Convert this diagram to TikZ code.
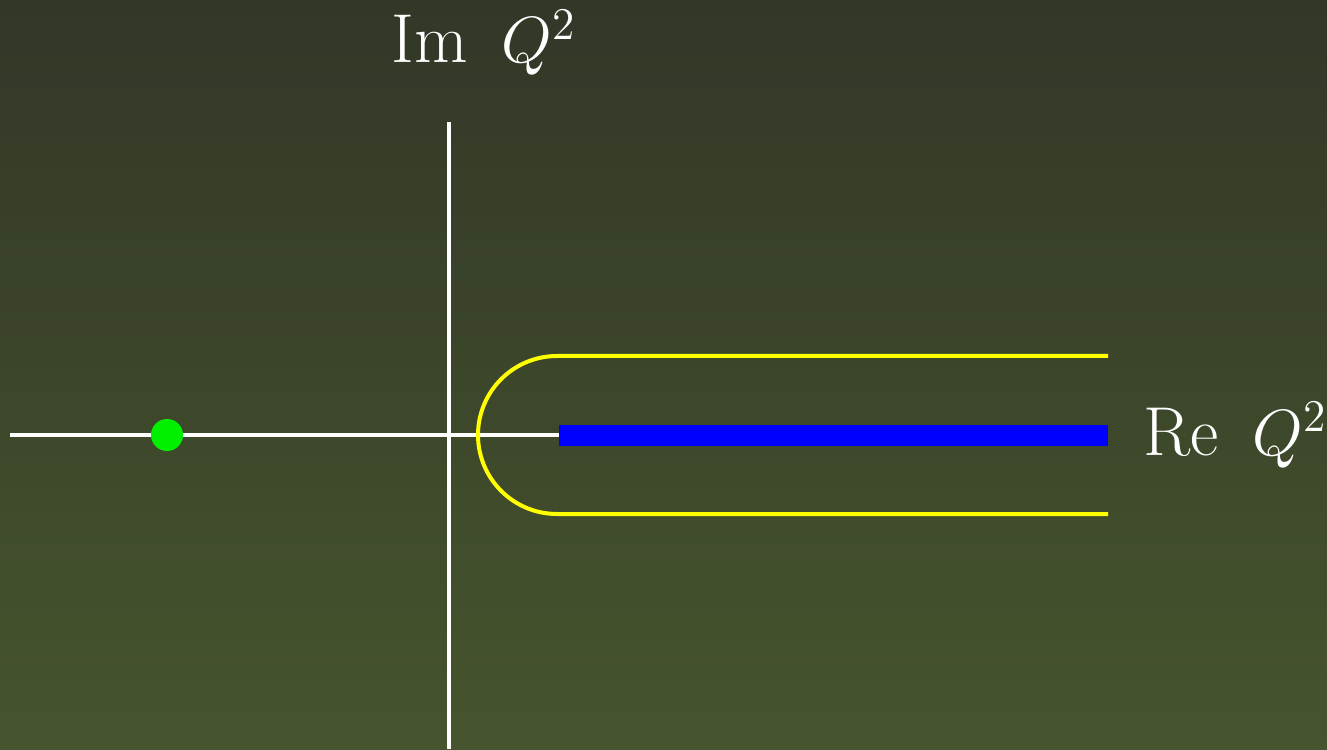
\documentclass[tikz,border=0pt]{standalone}
\definecolor{bgtop}{RGB}{50,55,40}
\definecolor{bgbot}{RGB}{70,85,45}
\definecolor{dotgreen}{RGB}{0,240,0}
\definecolor{contour}{RGB}{255,255,0}
\definecolor{cutblue}{RGB}{0,0,255}
\tikzset{
  axis/.style={draw=white, line width=4*0.3175pt},
  contourline/.style={draw=contour, line width=4*0.3175pt},
  label/.style={text=white, font=\fontsize{22}{26}\selectfont, inner sep=0pt},
}
\begin{document}
\begin{tikzpicture}[x=0.3175pt, y=-0.3175pt]
\shade[top color=bgtop, bottom color=bgbot] (0,0) rectangle (1327,749);
\useasboundingbox (0,0) rectangle (1327,749);
\coordinate (hl) at (10,435);
\coordinate (hr) at (560,435);
\coordinate (vt) at (449,122);
\coordinate (vb) at (449,749);
\draw[axis] (hl) -- (hr);
\draw[axis] (vt) -- (vb);
\coordinate (ct) at (1108,356);
\draw[contourline] (ct) -- (557,356) arc[start angle=270, end angle=90, radius=79] -- ++(551,0) coordinate (cb);
\coordinate (bl) at (559,425);
\coordinate (br) at (1108,446);
\fill[cutblue] (bl) rectangle (br);
\node[circle, fill=dotgreen, minimum size=32*0.3175pt, inner sep=0pt] (pole) at (167,435) {};
\node[label, anchor=base west] (im) at (391,63) {Im \hspace{4pt}$Q^2$};
\node[label, anchor=base west] (re) at (1143,455) {Re \hspace{4pt}$Q^2$};
\end{tikzpicture}
\end{document}
